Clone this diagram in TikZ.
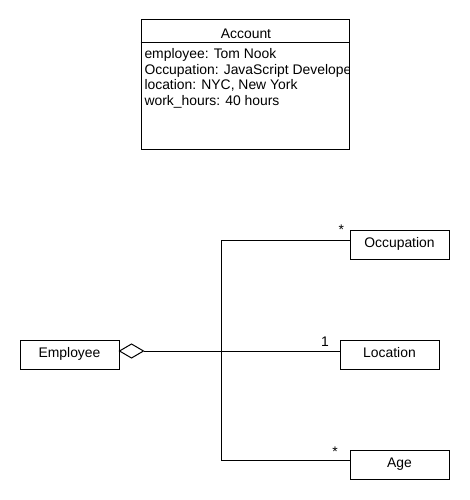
\documentclass[tikz,border=0pt]{standalone}
\usepackage{fontspec}
\setmainfont{Liberation Sans}
\begin{document}
\begin{tikzpicture}[x=1pt,y=-1pt,line width=1pt,
  every node/.style={font=\fontsize{13.9}{15.8}\selectfont},
  umlbox/.style={draw,inner sep=0pt,minimum width=99pt,minimum height=29pt,text height=9.6pt,text depth=3pt},
  mult/.style={inner sep=0pt,anchor=base},
  attr/.style={inner sep=0pt,anchor=base west}]
\useasboundingbox[fill=white] (0,0) rectangle (470,500);
% Account class
\node[draw,inner sep=0pt,minimum width=208pt,minimum height=129pt] (acc) at (245,84.5) {};
\draw (acc.west |- 0,43) coordinate (sl) -- (acc.east |- 0,43) coordinate (sr);
\node[mult] (acct) at (246,38.3) {Account};
\begin{scope}
\clip (sl) rectangle (acc.south east);
\node[attr] (a1) at (144,58.3) {employee: Tom Nook};
\node[attr] (a2) at (144,74.1) {Occupation: JavaScript Developer};
\node[attr] (a3) at (144,89.9) {location: NYC, New York};
\node[attr] (a4) at (144,105.7) {work\_hours: 40 hours};
\end{scope}
% classes
\node[umlbox] (emp) at (69.5,354.5) {Employee};
\node[umlbox] (occ) at (399.5,244.5) {Occupation};
\node[umlbox] (loc) at (389.5,354.5) {Location};
\node[umlbox] (age) at (399.5,464.5) {Age};
% aggregation diamond
\coordinate (dl) at (emp.east |- 0,351);
\draw (dl) -- ++(12,-7) -- ++(12,7) coordinate (dr) -- ++(-12,7) -- cycle;
\draw (dr) -- (dr -| loc.west);
\coordinate (j) at (221,351);
\draw ([yshift=4.5pt]occ.west) -- ([yshift=4.5pt]occ.west -| j) -- ([yshift=4.5pt]age.west -| j) -- ([yshift=4.5pt]age.west);
% multiplicities
\node[mult] (m1) at (341.3,234.6) {*};
\node[mult] (m2) at (325,346) {1};
\node[mult] (m3) at (335,456.6) {*};
\end{tikzpicture}
\end{document}
